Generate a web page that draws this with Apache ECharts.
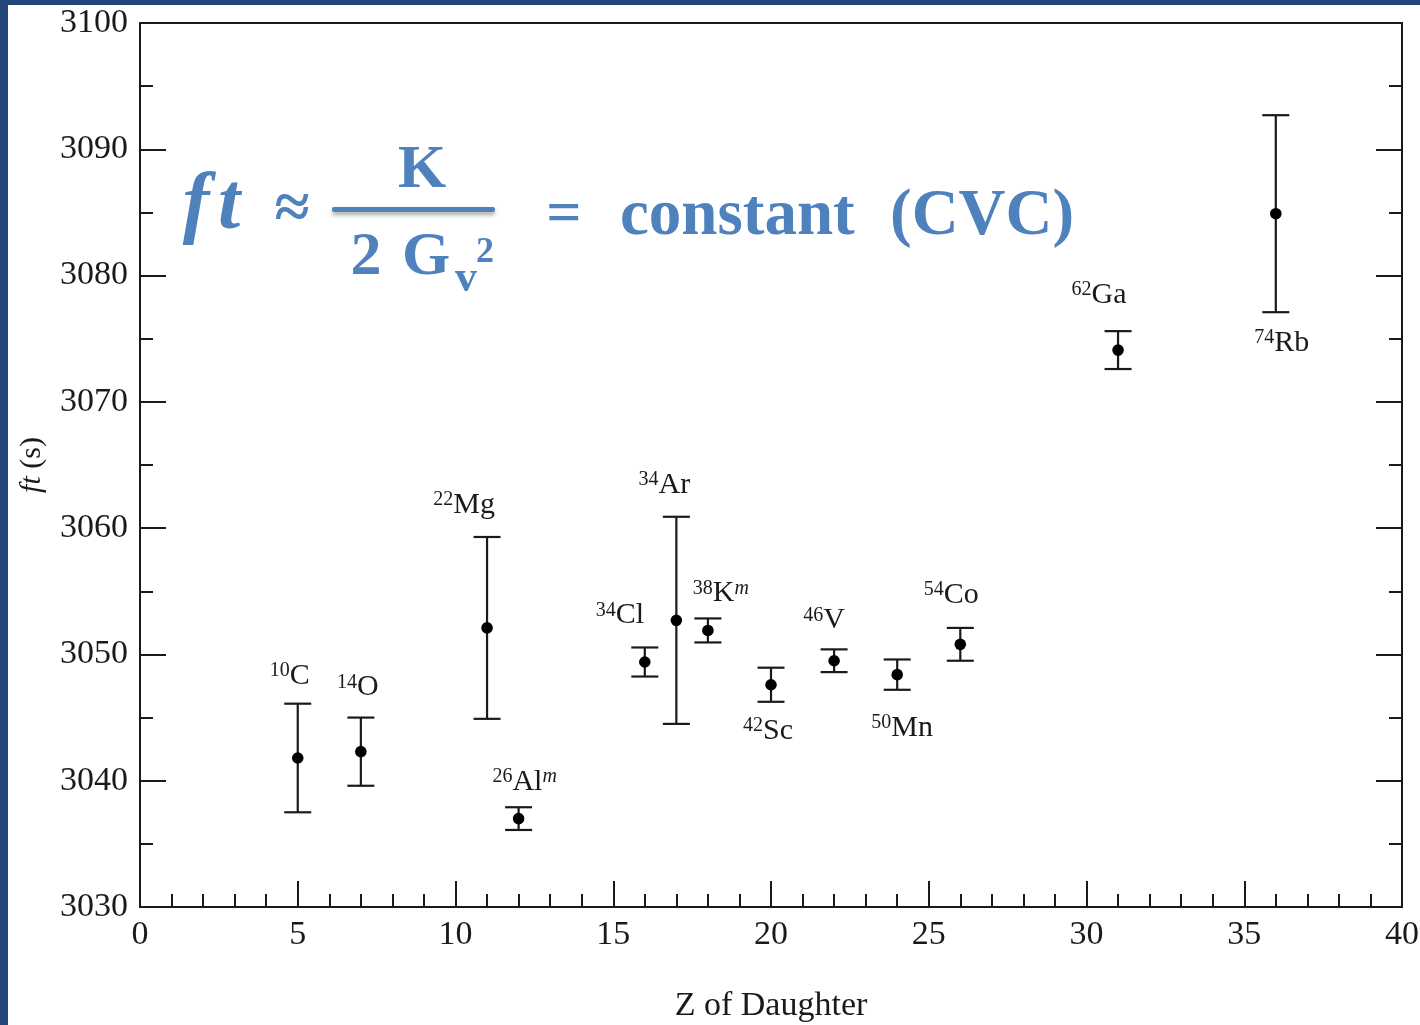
<!DOCTYPE html>
<html>
<head>
<meta charset="utf-8">
<script src="https://cdn.jsdelivr.net/npm/echarts@6/dist/echarts.min.js"></script>
<style>
  html, body { margin:0; padding:0; width:1420px; height:1025px; overflow:hidden; background:#24467a; }
  #paper { position:absolute; left:8px; top:5px; width:1412px; height:1020px; background:#ffffff; }
  #chart { position:absolute; left:0; top:0; width:1420px; height:1025px; }
</style>
</head>
<body>
<div id="paper"></div>
<div id="chart"></div>
<script>
// ---- data ----
const massNumbers = ['10', '14', '22', '26', '34', '34', '38', '42', '46', '50', '54', '62', '74'];
const elements    = ['C', 'O', 'Mg', 'Al', 'Cl', 'Ar', 'K', 'Sc', 'V', 'Mn', 'Co', 'Ga', 'Rb'];
const isomeric    = [false, false, false, true, false, false, true, false, false, false, false, false, false];
const zDaughter   = [5, 7, 11, 12, 16, 17, 18, 20, 22, 24, 26, 31, 36];
const ftValues    = [3041.8, 3042.3, 3052.1, 3037.0, 3049.4, 3052.7, 3051.9, 3047.6, 3049.5, 3048.4, 3050.8, 3074.1, 3084.9];
const ftErrors    = [4.3, 2.7, 7.2, 0.9, 1.15, 8.2, 0.95, 1.35, 0.9, 1.2, 1.3, 1.5, 7.8];
const xTicks = { min: 0, max: 40, interval: 5 };
const yTicks = { min: 3030, max: 3100, interval: 10 };

// ---- label placement (style): side, horizontal nudge, gap from error cap (px) ----
const labelSide  = ['top','top','top','top','top','top','top','bottom','top','bottom','top','top','bottom'];
const labelNudge = [[-8,18],[-3,20],[-23,22],[6,15],[-25,22],[-12,22],[13,15],[-3,19],[-10,19],[5,28],[-9,23],[-19,26],[6,21]];

const INK = '#1a1a1a';
const SERIF = '"Liberation Serif", "Times New Roman", serif';
const BLUE = '#4f81bd';

const chart = echarts.init(document.getElementById('chart'), null, { renderer: 'canvas' });

const rows = zDaughter.map((z, i) => [z, ftValues[i], ftErrors[i], i]);

function plain(v) { return String(v); }

function axisCommon() {
  return {
    type: 'value',
    splitLine: { show: false },
    axisLine: { show: true, onZero: false, lineStyle: { color: INK, width: 2 } },
    axisTick: { show: true, inside: true, length: 26, lineStyle: { color: INK, width: 2 } },
    minorTick: { show: true, splitNumber: 2, length: 13, lineStyle: { color: INK, width: 2 } },
    axisLabel: { show: true, fontSize: 34, fontFamily: SERIF, color: INK, formatter: plain }
  };
}

const option = {
  backgroundColor: 'transparent',
  animation: false,
  grid: { left: 140, right: 18, top: 23, bottom: 118, containLabel: false, outerBoundsMode: 'none' },
  xAxis: [
    Object.assign(axisCommon(), {
      position: 'bottom', min: xTicks.min, max: xTicks.max, interval: xTicks.interval,
      minorTick: { show: true, splitNumber: 5, length: 13, lineStyle: { color: INK, width: 2 } },
      axisLabel: { fontSize: 34, fontFamily: SERIF, color: INK, margin: 11, showMinLabel: true, showMaxLabel: true, hideOverlap: false, formatter: plain },
      name: 'Z of Daughter', nameLocation: 'middle', nameGap: 82,
      nameTextStyle: { fontSize: 34, fontFamily: SERIF, color: INK }
    }),
    Object.assign(axisCommon(), {
      position: 'top', min: xTicks.min, max: xTicks.max, interval: xTicks.interval,
      axisTick: { show: false }, minorTick: { show: false }, axisLabel: { show: false }
    })
  ],
  yAxis: [
    Object.assign(axisCommon(), {
      position: 'left', min: yTicks.min, max: yTicks.max, interval: yTicks.interval,
      axisLabel: { fontSize: 34, fontFamily: SERIF, color: INK, margin: 12, showMinLabel: true, showMaxLabel: true, formatter: plain },
      name: '{i|ft} (s)', nameLocation: 'middle', nameGap: 93, nameRotate: 90,
      nameTextStyle: {
        fontSize: 30, fontFamily: SERIF, color: INK,
        rich: { i: { fontSize: 30, fontFamily: SERIF, fontStyle: 'italic', color: INK } }
      }
    }),
    Object.assign(axisCommon(), {
      position: 'right', min: yTicks.min, max: yTicks.max, interval: yTicks.interval,
      axisLabel: { show: false }
    })
  ],
  series: [{
    type: 'custom',
    xAxisIndex: 0, yAxisIndex: 0,
    data: rows,
    clip: false,
    renderItem: function (params, api) {
      const x = api.value(0), v = api.value(1), e = api.value(2), i = api.value(3);
      const p = api.coord([x, v]);
      const hi = api.coord([x, v + e]);
      const lo = api.coord([x, v - e]);
      const cw = 13.5;
      const ls = { stroke: INK, lineWidth: 2.2 };
      const nudge = labelNudge[i];
      const top = labelSide[i] === 'top';
      const ly = top ? hi[1] - nudge[1] - 10 : lo[1] + nudge[1] + 10;
      let txt = '{s|' + massNumbers[i] + '}{e|' + elements[i] + '}';
      if (isomeric[i]) txt += '{m|m}';
      return {
        type: 'group',
        children: [
          { type: 'line', shape: { x1: p[0], y1: hi[1], x2: p[0], y2: lo[1] }, style: ls },
          { type: 'line', shape: { x1: p[0] - cw, y1: hi[1], x2: p[0] + cw, y2: hi[1] }, style: ls },
          { type: 'line', shape: { x1: p[0] - cw, y1: lo[1], x2: p[0] + cw, y2: lo[1] }, style: ls },
          { type: 'circle', shape: { cx: p[0], cy: p[1], r: 5.8 }, style: { fill: '#000' } },
          {
            type: 'text',
            style: {
              x: p[0] + nudge[0], y: ly, text: txt, align: 'center', verticalAlign: 'middle',
              fill: INK,
              rich: {
                s: { fontSize: 20, fontFamily: SERIF, lineHeight: 10, verticalAlign: 'top', fill: INK },
                e: { fontSize: 30, fontFamily: SERIF, lineHeight: 30, fill: INK },
                m: { fontSize: 20, fontFamily: SERIF, fontStyle: 'italic', lineHeight: 10, verticalAlign: 'top', fill: INK }
              }
            }
          }
        ]
      };
    }
  }],
  graphic: {
    elements: [
      { type: 'text', style: { x: 196, y: 207, text: 'f', font: 'italic bold 80px ' + SERIF, fill: BLUE, align: 'center', verticalAlign: 'middle' } },
      { type: 'text', style: { x: 229, y: 207, text: 't', font: 'italic bold 80px ' + SERIF, fill: BLUE, align: 'center', verticalAlign: 'middle' } },
      { type: 'text', style: { x: 292, y: 211, text: '\u2248', font: 'bold 64px ' + SERIF, fill: BLUE, align: 'center', verticalAlign: 'middle' } },
      { type: 'rect', shape: { x: 332, y: 207, width: 163, height: 5, r: 2 },
        style: { fill: BLUE, shadowBlur: 4, shadowColor: 'rgba(0,0,0,0.35)', shadowOffsetY: 3 } },
      { type: 'text', style: { x: 422, y: 171, text: 'K', font: 'bold 62px ' + SERIF, fill: BLUE, align: 'center', verticalAlign: 'middle' } },
      { type: 'text', style: { x: 366, y: 258, text: '2', font: 'bold 62px ' + SERIF, fill: BLUE, align: 'center', verticalAlign: 'middle' } },
      { type: 'text', style: { x: 426, y: 258, text: 'G', font: 'bold 62px ' + SERIF, fill: BLUE, align: 'center', verticalAlign: 'middle' } },
      { type: 'text', style: { x: 466, y: 280, text: 'v', font: 'bold 44px ' + SERIF, fill: BLUE, align: 'center', verticalAlign: 'middle' } },
      { type: 'text', style: { x: 485, y: 253, text: '2', font: 'bold 36px ' + SERIF, fill: BLUE, align: 'center', verticalAlign: 'middle' } },
      { type: 'text', style: { x: 564, y: 216, text: '=', font: 'bold 62px ' + SERIF, fill: BLUE, align: 'center', verticalAlign: 'middle' } },
      { type: 'text', style: { x: 620, y: 217, text: 'constant', font: 'bold 65px ' + SERIF, fill: BLUE, align: 'left', verticalAlign: 'middle' } },
      { type: 'text', style: { x: 890, y: 217, text: '(CVC)', font: 'bold 65px ' + SERIF, fill: BLUE, align: 'left', verticalAlign: 'middle' } }
    ]
  }
};

chart.setOption(option);
</script>
</body>
</html>
